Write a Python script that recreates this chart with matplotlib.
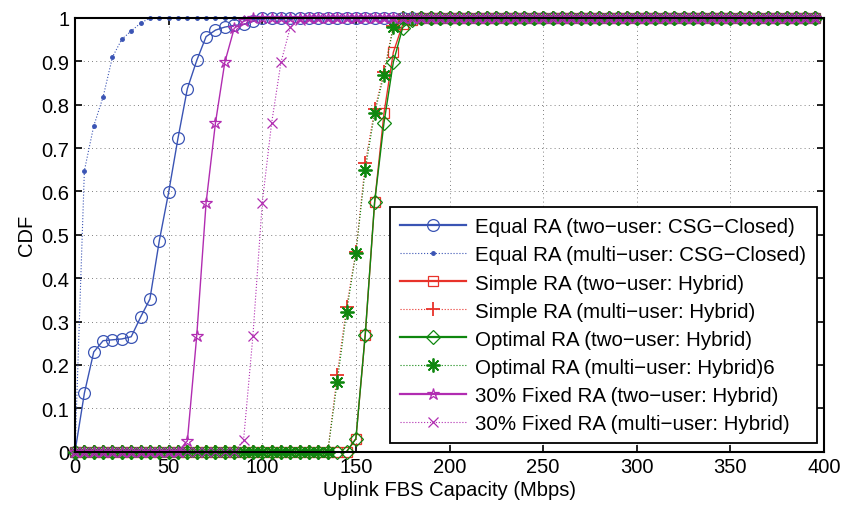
import matplotlib.pyplot as plt
import numpy as np

plt.rcParams['font.family'] = ['Liberation Sans', 'DejaVu Sans']

# capacity grid (Mbps), one sample every 5 Mbps
cap = np.arange(0, 400, 5)

def pad(vals, start):
    # vals start at index `start`; zeros before, ones after
    y = np.ones(len(cap))
    y[:start] = 0
    y[start:start + len(vals)] = vals
    return y

eq_two_vals = [0.0, 0.135, 0.23, 0.256, 0.258, 0.26, 0.265, 0.31, 0.352, 0.486,
               0.598, 0.723, 0.837, 0.902, 0.957, 0.972, 0.979, 0.983, 0.985, 0.992]
eq_multi_vals = [0.0, 0.648, 0.751, 0.818, 0.91, 0.951, 0.970, 0.988]
simple_two_vals = [0.03, 0.27, 0.575, 0.78, 0.921, 0.985, 0.995]
simple_multi_vals = [0.177, 0.334, 0.461, 0.665, 0.789, 0.876, 0.982]
opt_two_vals = [0.03, 0.27, 0.575, 0.758, 0.898, 0.978, 0.995]
opt_multi_vals = [0.160, 0.321, 0.458, 0.650, 0.780, 0.869, 0.979]
fix_two_vals = [0.025, 0.267, 0.574, 0.758, 0.898, 0.976, 0.992]
fix_multi_vals = [0.026, 0.267, 0.574, 0.758, 0.898, 0.979, 0.995]

eq_two = pad(eq_two_vals, 0)
eq_multi = pad(eq_multi_vals, 0)
simple_two = pad(simple_two_vals, 30)
simple_multi = pad(simple_multi_vals, 28)
opt_two = pad(opt_two_vals, 30)
opt_multi = pad(opt_multi_vals, 28)
fix_two = pad(fix_two_vals, 12)
fix_multi = pad(fix_multi_vals, 18)

labels = ['Equal RA (two\u2212user: CSG\u2212Closed)',
          'Equal RA (multi\u2212user: CSG\u2212Closed)',
          'Simple RA (two\u2212user: Hybrid)',
          'Simple RA (multi\u2212user: Hybrid)',
          'Optimal RA (two\u2212user: Hybrid)',
          'Optimal RA (multi\u2212user: Hybrid)6',
          '30% Fixed RA (two\u2212user: Hybrid)',
          '30% Fixed RA (multi\u2212user: Hybrid)']

blue = '#3a54b4'
red = '#e8322a'
green = '#0f870f'
magenta = '#b12cb1'

fig = plt.figure(figsize=(8.41, 5.06), dpi=100)
ax = fig.add_axes([0.0892, 0.1053, 0.8906, 0.8572])

kw = dict(clip_on=False)
ax.plot(cap, eq_two, '-', color=blue, lw=1, marker='o', ms=8.5, mfc='none', mew=0.9, label=labels[0], **kw)
ax.plot(cap, eq_multi, ':', color=blue, lw=0.8, marker='.', ms=5, label=labels[1], **kw)
ax.plot(cap, simple_two, '-', color=red, lw=1, marker='s', ms=7, mfc='none', mew=0.9, label=labels[2], **kw)
ax.plot(cap, simple_multi, ':', color=red, lw=0.8, marker='+', ms=10, mew=1.3, label=labels[3], **kw)
ax.plot(cap, opt_two, '-', color=green, lw=1, marker='D', ms=7, mfc='none', mew=0.9, label=labels[4], **kw)
ax.plot(cap, opt_multi, ':', color=green, lw=0.8, marker=(8, 2, 0), ms=10, mew=1.3, label=labels[5], **kw)
ax.plot(cap, fix_two, '-', color=magenta, lw=1, marker='*', ms=9, mfc='none', mew=0.9, label=labels[6], **kw)
ax.plot(cap, fix_multi, ':', color=magenta, lw=0.8, marker='x', ms=7, mew=0.9, label=labels[7], **kw)

ax.set_xlim(0, 400)
ax.set_ylim(0, 1)
ax.set_xticks(np.arange(0, 401, 50))
ax.set_yticks(np.arange(0, 1.01, 0.1))
ax.set_yticklabels(['0', '0.1', '0.2', '0.3', '0.4', '0.5', '0.6', '0.7', '0.8', '0.9', '1'])
ax.tick_params(direction='in', top=True, right=True, length=5, width=1.2, labelsize=14.5, pad=4)
for s in ax.spines.values():
    s.set_linewidth(1.5)
ax.grid(True, color='#555555', linestyle=(0, (1, 4)), linewidth=0.6)

ax.set_xlabel('Uplink FBS Capacity (Mbps)', fontsize=14.5, labelpad=3)
ax.set_ylabel('CDF', fontsize=14.5, labelpad=4)

leg = ax.legend(loc='lower right', bbox_to_anchor=(0.99, 0.02), borderaxespad=0,
                fontsize=14.8, fancybox=False, framealpha=1, edgecolor='black',
                handlelength=3.2, handletextpad=0.45, labelspacing=0.44, borderpad=0.5)
leg.get_frame().set_linewidth(1.3)
for h in leg.get_lines():
    if h.get_linestyle() == '-':
        h.set_linewidth(1.6)

plt.savefig('out.png', dpi=100)
